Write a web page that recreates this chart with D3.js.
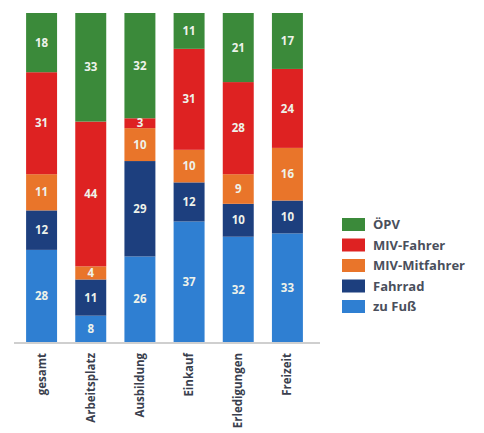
<!DOCTYPE html>
<html>
<head>
<meta charset="utf-8">
<script src="https://cdn.jsdelivr.net/npm/d3@7"></script>
<style>
  html, body { margin: 0; padding: 0; background: #ffffff; }
  svg { display: block; }
</style>
</head>
<body>
<svg id="chart" width="484" height="433"></svg>
<script>
// Modal split by trip purpose (percent), drawn as 100% stacked columns
const categories = ["gesamt", "Arbeitsplatz", "Ausbildung", "Einkauf", "Erledigungen", "Freizeit"];
const seriesNames = ["zu Fuß", "Fahrrad", "MIV-Mitfahrer", "MIV-Fahrer", "ÖPV"];
const zuFuss       = [28, 8, 26, 37, 32, 33];
const fahrrad      = [12, 11, 29, 12, 10, 10];
const mivMitfahrer = [11, 4, 10, 10, 9, 16];
const mivFahrer    = [31, 44, 3, 31, 28, 24];
const oepv         = [18, 33, 32, 11, 21, 17];
const yTicks = [0, 1];

const seriesValues = [zuFuss, fahrrad, mivMitfahrer, mivFahrer, oepv];
const colors = ["#2f7fd2", "#1d3f7e", "#e9752a", "#de2222", "#3b8a3a"];

const rows = categories.map((c, i) => {
  const r = { cat: c };
  seriesNames.forEach((s, k) => { r[s] = seriesValues[k][i]; });
  return r;
});

const svg = d3.select("#chart");

const x = d3.scaleBand()
  .domain(categories)
  .range([17, 312])
  .paddingInner(0.37)
  .paddingOuter(0.185);

const y = d3.scaleLinear()
  .domain([yTicks[0], yTicks[1]])
  .range([342, 13]);

const stack = d3.stack().keys(seriesNames).offset(d3.stackOffsetExpand);
const layers = stack(rows);

const color = d3.scaleOrdinal().domain(seriesNames).range(colors);

const g = svg.append("g");

layers.forEach(layer => {
  g.append("g").attr("fill", color(layer.key))
    .selectAll("rect")
    .data(layer)
    .join("rect")
    .attr("x", d => x(d.data.cat))
    .attr("width", x.bandwidth())
    .attr("y", d => y(d[1]))
    .attr("height", d => y(d[0]) - y(d[1]));
});

layers.forEach(layer => {
  g.append("g").selectAll("text")
    .data(layer)
    .join("text")
    .attr("x", d => x(d.data.cat) + x.bandwidth() / 2)
    .attr("y", d => (y(d[0]) + y(d[1])) / 2)
    .attr("dy", "0.36em")
    .attr("text-anchor", "middle")
    .attr("font-family", "'Open Sans', 'Liberation Sans', sans-serif")
    .attr("font-weight", "bold")
    .attr("font-size", 11.5)
    .attr("fill", "#eef2ea")
    .text(d => d.data[layer.key]);
});

// category axis
const xAxis = d3.axisBottom(x).tickSize(0).tickPadding(0);
const axisG = svg.append("g")
  .attr("transform", `translate(0,${y(0) + 1})`)
  .call(xAxis);
axisG.select(".domain").remove();
axisG.append("line")
  .attr("x1", 14).attr("x2", 320)
  .attr("y1", 0).attr("y2", 0)
  .attr("stroke", "#bfbfbf").attr("stroke-width", 1.5);
axisG.selectAll(".tick text")
  .attr("font-family", "'Open Sans', 'Liberation Sans', sans-serif")
  .attr("font-weight", "bold")
  .attr("font-size", 11.5)
  .attr("fill", "#3a3f4e")
  .attr("text-anchor", "end")
  .attr("transform", "rotate(-90)")
  .attr("x", -10)
  .attr("y", 0)
  .attr("dy", "0.35em");

// legend, top to bottom: ÖPV first
const legendItems = seriesNames.slice().reverse();
const legend = svg.append("g").attr("transform", "translate(342,218)");
const item = legend.selectAll("g")
  .data(legendItems)
  .join("g")
  .attr("transform", (d, i) => `translate(0,${i * 20.5})`);
item.append("rect")
  .attr("width", 23)
  .attr("height", 13)
  .attr("fill", d => color(d));
item.append("text")
  .attr("x", 31)
  .attr("y", 6.5)
  .attr("dy", "0.35em")
  .attr("font-family", "'Open Sans', 'Liberation Sans', sans-serif")
  .attr("font-weight", "bold")
  .attr("font-size", 13)
  .attr("fill", "#4a4f5c")
  .text(d => d);
</script>
</body>
</html>
